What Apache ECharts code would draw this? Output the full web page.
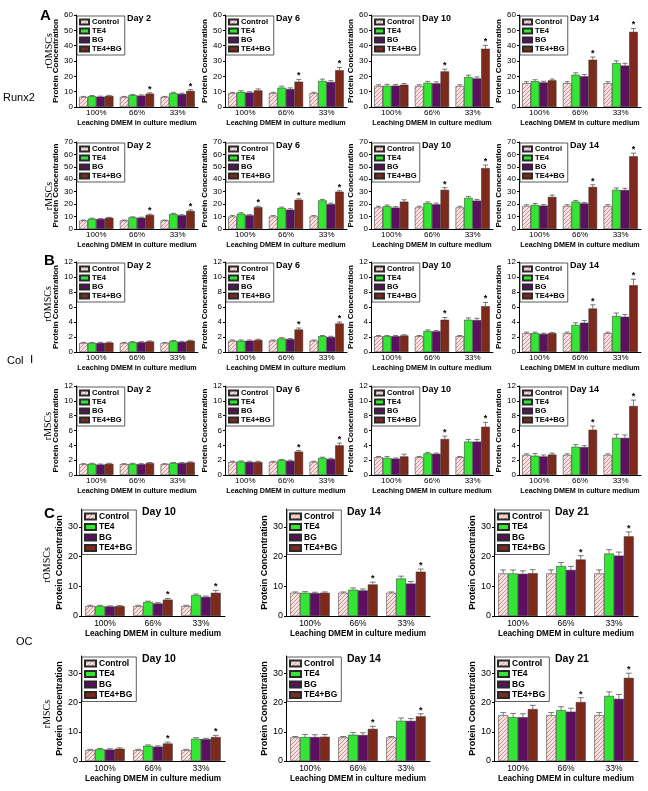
<!DOCTYPE html>
<html><head><meta charset="utf-8">
<script src="https://cdn.jsdelivr.net/npm/echarts@6/dist/echarts.min.js"></script>
<style>html,body{margin:0;padding:0;background:#fff}#c{width:648px;height:791px}</style>
</head><body><div id="c"></div>
<script>
// ---------- DATA ----------
const categories = ['100%', '66%', '33%'];
const seriesNames = ['Control', 'TE4', 'BG', 'TE4+BG'];
// values: [Control, TE4, BG, TE4+BG], each by category; err same layout; sig = star on TE4+BG per category
// Runx2 – rOMSCs
const runx2_rOMSCs_d2  = [[6.5,6.5,6.5],[7.0,7.7,9.0],[6.7,7.4,8.5],[7.2,8.7,10.5]];
const runx2_rOMSCs_d2_err = [[0.4,0.4,0.4],[0.5,0.5,0.6],[0.4,0.5,0.5],[0.4,0.6,0.8]];
const runx2_rOMSCs_d2_sig = [0,1,1];
const runx2_rOMSCs_d6  = [[9,9,9],[9.8,12.6,17],[9.4,11.7,16.3],[10.8,16.5,24]];
const runx2_rOMSCs_d6_err = [[0.6,0.6,0.6],[0.8,1,1.2],[0.6,0.8,0.9],[1,1.5,1.8]];
const runx2_rOMSCs_d6_sig = [0,1,1];
const runx2_rOMSCs_d10 = [[13.7,13.7,13.7],[13.8,15.7,19.5],[13.9,15.4,18.6],[14.5,23.2,38]];
const runx2_rOMSCs_d10_err = [[0.8,0.8,0.8],[1,1,1.2],[0.8,1,1],[0.8,1.5,2.2]];
const runx2_rOMSCs_d10_sig = [0,1,1];
const runx2_rOMSCs_d14 = [[15.5,15.5,15.5],[16.8,21,28.6],[16,20,27],[17.4,30.8,49]];
const runx2_rOMSCs_d14_err = [[1,1,1],[1,1.3,1.5],[0.8,1.2,1.5],[0.8,1.8,2.2]];
const runx2_rOMSCs_d14_sig = [0,1,1];
// Runx2 – rMSCs
const runx2_rMSCs_d2  = [[6.8,6.8,6.8],[8.2,9.3,12],[8,9,11],[9,11.3,14.5]];
const runx2_rMSCs_d2_err = [[0.4,0.4,0.4],[0.5,0.5,0.6],[0.4,0.5,0.5],[0.4,0.6,0.8]];
const runx2_rMSCs_d2_sig = [0,1,1];
const runx2_rMSCs_d6  = [[10,10,10],[12.3,16.8,23],[11,15.5,20],[17.5,23.5,30]];
const runx2_rMSCs_d6_err = [[0.8,0.8,0.8],[0.8,0.8,0.8],[0.6,0.8,0.8],[0.8,0.8,0.8]];
const runx2_rMSCs_d6_sig = [1,1,1];
const runx2_rMSCs_d10 = [[17.3,17.3,17.3],[18.3,20.8,25],[17.2,19.8,22.8],[22,31.5,49]];
const runx2_rMSCs_d10_err = [[1,1,1],[1,1,1.2],[0.8,1,1],[1.5,1.8,2.5]];
const runx2_rMSCs_d10_sig = [0,1,1];
const runx2_rMSCs_d14 = [[18.5,18.5,18.5],[19.3,22,31.5],[18.8,20.6,31.3],[25.8,33.8,58.5]];
const runx2_rMSCs_d14_err = [[1,1,1],[1.2,1,1.5],[0.8,0.8,1.5],[1.5,1.8,2.5]];
const runx2_rMSCs_d14_sig = [0,1,1];
// Col I – rOMSCs
const col1_rOMSCs_d2  = [[1.2,1.2,1.2],[1.2,1.3,1.45],[1.2,1.3,1.35],[1.25,1.4,1.5]];
const col1_rOMSCs_d2_err = [[0.08,0.08,0.08],[0.08,0.08,0.08],[0.08,0.08,0.08],[0.08,0.08,0.08]];
const col1_rOMSCs_d2_sig = [0,0,0];
const col1_rOMSCs_d6  = [[1.5,1.5,1.5],[1.5,1.8,2.1],[1.5,1.7,2.0],[1.6,3.0,3.8]];
const col1_rOMSCs_d6_err = [[0.1,0.1,0.1],[0.1,0.1,0.1],[0.1,0.1,0.1],[0.1,0.2,0.2]];
const col1_rOMSCs_d6_sig = [0,1,1];
const col1_rOMSCs_d10 = [[2.1,2.1,2.1],[2.1,2.8,4.3],[2.1,2.75,4.25],[2.2,4.3,6.1]];
const col1_rOMSCs_d10_err = [[0.1,0.1,0.1],[0.1,0.15,0.25],[0.1,0.1,0.25],[0.1,0.3,0.5]];
const col1_rOMSCs_d10_sig = [0,1,1];
const col1_rOMSCs_d14 = [[2.5,2.5,2.5],[2.5,3.6,4.8],[2.4,3.9,4.7],[2.5,5.8,8.9]];
const col1_rOMSCs_d14_err = [[0.15,0.15,0.15],[0.15,0.3,0.4],[0.1,0.3,0.3],[0.1,0.5,0.8]];
const col1_rOMSCs_d14_sig = [0,1,1];
// Col I – rMSCs
const col1_rMSCs_d2  = [[1.45,1.45,1.45],[1.5,1.5,1.6],[1.4,1.45,1.6],[1.5,1.6,1.7]];
const col1_rMSCs_d2_err = [[0.08,0.08,0.08],[0.08,0.08,0.08],[0.08,0.08,0.08],[0.08,0.08,0.08]];
const col1_rMSCs_d2_sig = [0,0,0];
const col1_rMSCs_d6  = [[1.75,1.75,1.75],[1.8,2.0,2.3],[1.75,1.9,2.15],[1.75,3.15,4.0]];
const col1_rMSCs_d6_err = [[0.1,0.1,0.1],[0.1,0.1,0.1],[0.1,0.1,0.1],[0.1,0.15,0.3]];
const col1_rMSCs_d6_sig = [0,1,1];
const col1_rMSCs_d10 = [[2.4,2.4,2.4],[2.3,2.9,4.5],[2.2,2.85,4.5],[2.5,4.85,6.5]];
const col1_rMSCs_d10_err = [[0.1,0.1,0.1],[0.2,0.15,0.3],[0.1,0.1,0.3],[0.3,0.4,0.6]];
const col1_rMSCs_d10_sig = [0,1,1];
const col1_rMSCs_d14 = [[2.7,2.7,2.7],[2.6,3.8,5.0],[2.5,3.75,5.0],[2.75,6.1,9.3]];
const col1_rMSCs_d14_err = [[0.15,0.15,0.15],[0.3,0.3,0.5],[0.2,0.2,0.4],[0.2,0.5,0.8]];
const col1_rMSCs_d14_sig = [0,1,1];
// OC – rOMSCs
const oc_rOMSCs_d10 = [[3.3,3.3,3.3],[3.3,4.7,7.0],[3.2,4.2,6.4],[3.3,5.5,7.8]];
const oc_rOMSCs_d10_err = [[0.3,0.3,0.3],[0.3,0.3,0.4],[0.2,0.3,0.3],[0.2,0.4,0.8]];
const oc_rOMSCs_d10_sig = [0,1,1];
const oc_rOMSCs_d14 = [[7.8,7.8,7.8],[7.8,8.85,12.6],[7.7,8.6,10.9],[7.8,10.6,14.9]];
const oc_rOMSCs_d14_err = [[0.3,0.3,0.3],[0.4,0.6,0.8],[0.3,0.5,0.7],[0.3,0.8,0.9]];
const oc_rOMSCs_d14_sig = [0,1,1];
const oc_rOMSCs_d21 = [[14.3,14.3,14.3],[14.3,16.8,21],[14.2,15.5,20.3],[14.4,19,26.8]];
const oc_rOMSCs_d21_err = [[1.2,1.2,1.2],[1.2,1.2,1.3],[1.0,1.2,1.2],[1.2,1.3,1.5]];
const oc_rOMSCs_d21_sig = [0,1,1];
// OC – rMSCs
const oc_rMSCs_d10 = [[3.7,3.7,3.7],[4.0,5.2,7.6],[3.9,4.9,7.5],[4.2,6.0,8.2]];
const oc_rMSCs_d10_err = [[0.3,0.3,0.3],[0.3,0.3,0.4],[0.3,0.3,0.3],[0.3,0.5,0.6]];
const oc_rMSCs_d10_sig = [0,1,1];
const oc_rMSCs_d14 = [[8.1,8.1,8.1],[8.2,9.0,13.75],[8.2,8.9,13.75],[8.3,11.0,15.3]];
const oc_rMSCs_d14_err = [[0.3,0.3,0.3],[0.9,0.8,1],[0.8,0.8,0.8],[0.8,0.9,0.9]];
const oc_rMSCs_d14_sig = [0,1,1];
const oc_rMSCs_d21 = [[15.7,15.7,15.7],[15,17.4,22.3],[15,16.9,21.3],[17.8,20.2,28.5]];
const oc_rMSCs_d21_err = [[0.9,0.9,0.9],[1.3,1.2,1.4],[1.2,1.2,1.5],[1.3,1.5,1.6]];
const oc_rMSCs_d21_sig = [0,1,1];

const yTicksC = [0, 10, 20, 30];

// ---------- STYLE / LAYOUT ----------
const SANS = 'Liberation Sans, Arial, sans-serif';
const SERIF = 'Liberation Serif, Times New Roman, serif';
function hatch() {
  const c = document.createElement('canvas'); c.width = 4; c.height = 4;
  const g = c.getContext('2d');
  g.fillStyle = '#f7e3e3'; g.fillRect(0, 0, 4, 4);
  g.strokeStyle = '#cf8f8f'; g.lineWidth = 1;
  g.beginPath();
  g.moveTo(0, 4); g.lineTo(4, 0);
  g.moveTo(-1, 1); g.lineTo(1, -1);
  g.moveTo(3, 5); g.lineTo(5, 3);
  g.stroke();
  return c;
}
const colors = [{ image: hatch(), repeat: 'repeat' }, '#33e633', '#5c1060', '#7d2a1d'];

const xAB = [76, 225, 371, 519], wAB = 122;
const xC = [81, 286, 494], wC = 144;
const panels = [];
function addAB(top, h, max, iv, list) {
  list.forEach((it, i) => panels.push({ v: it[0], e: it[1], s: it[2], day: it[3], left: xAB[i], top, w: wAB, h, max, iv, big: false }));
}
function addC(top, h, list) {
  list.forEach((it, i) => panels.push({ v: it[0], e: it[1], s: it[2], day: it[3], left: xC[i], top, w: wC, h, max: 36, iv: 10, big: true }));
}
addAB(15, 92, 60, 10, [
  [runx2_rOMSCs_d2, runx2_rOMSCs_d2_err, runx2_rOMSCs_d2_sig, 'Day 2'],
  [runx2_rOMSCs_d6, runx2_rOMSCs_d6_err, runx2_rOMSCs_d6_sig, 'Day 6'],
  [runx2_rOMSCs_d10, runx2_rOMSCs_d10_err, runx2_rOMSCs_d10_sig, 'Day 10'],
  [runx2_rOMSCs_d14, runx2_rOMSCs_d14_err, runx2_rOMSCs_d14_sig, 'Day 14']]);
addAB(142, 87, 70, 10, [
  [runx2_rMSCs_d2, runx2_rMSCs_d2_err, runx2_rMSCs_d2_sig, 'Day 2'],
  [runx2_rMSCs_d6, runx2_rMSCs_d6_err, runx2_rMSCs_d6_sig, 'Day 6'],
  [runx2_rMSCs_d10, runx2_rMSCs_d10_err, runx2_rMSCs_d10_sig, 'Day 10'],
  [runx2_rMSCs_d14, runx2_rMSCs_d14_err, runx2_rMSCs_d14_sig, 'Day 14']]);
addAB(262, 90, 12, 2, [
  [col1_rOMSCs_d2, col1_rOMSCs_d2_err, col1_rOMSCs_d2_sig, 'Day 2'],
  [col1_rOMSCs_d6, col1_rOMSCs_d6_err, col1_rOMSCs_d6_sig, 'Day 6'],
  [col1_rOMSCs_d10, col1_rOMSCs_d10_err, col1_rOMSCs_d10_sig, 'Day 10'],
  [col1_rOMSCs_d14, col1_rOMSCs_d14_err, col1_rOMSCs_d14_sig, 'Day 14']]);
addAB(386, 89, 12, 2, [
  [col1_rMSCs_d2, col1_rMSCs_d2_err, col1_rMSCs_d2_sig, 'Day 2'],
  [col1_rMSCs_d6, col1_rMSCs_d6_err, col1_rMSCs_d6_sig, 'Day 6'],
  [col1_rMSCs_d10, col1_rMSCs_d10_err, col1_rMSCs_d10_sig, 'Day 10'],
  [col1_rMSCs_d14, col1_rMSCs_d14_err, col1_rMSCs_d14_sig, 'Day 14']]);
addC(509, 107, [
  [oc_rOMSCs_d10, oc_rOMSCs_d10_err, oc_rOMSCs_d10_sig, 'Day 10'],
  [oc_rOMSCs_d14, oc_rOMSCs_d14_err, oc_rOMSCs_d14_sig, 'Day 14'],
  [oc_rOMSCs_d21, oc_rOMSCs_d21_err, oc_rOMSCs_d21_sig, 'Day 21']]);
addC(656, 105, [
  [oc_rMSCs_d10, oc_rMSCs_d10_err, oc_rMSCs_d10_sig, 'Day 10'],
  [oc_rMSCs_d14, oc_rMSCs_d14_err, oc_rMSCs_d14_sig, 'Day 14'],
  [oc_rMSCs_d21, oc_rMSCs_d21_err, oc_rMSCs_d21_sig, 'Day 21']]);

function errRender(gap) {
  return function (params, api) {
    const cat = api.value(0), k = api.value(1), v = api.value(2), e = api.value(3), s = api.value(4);
    const band = api.size([1, 0])[0];
    const bw = band * (1 - gap) / 4;
    const p0 = api.coord([cat, v]);
    const p1 = api.coord([cat, v + e]);
    const x = p0[0] + (k - 1.5) * bw;
    const cw = bw * 0.3;
    const ch = [
      { type: 'line', shape: { x1: x, y1: p0[1], x2: x, y2: p1[1] }, style: { stroke: '#444', lineWidth: 0.7 } },
      { type: 'line', shape: { x1: x - cw, y1: p1[1], x2: x + cw, y2: p1[1] }, style: { stroke: '#444', lineWidth: 0.7 } }
    ];
    if (s) ch.push({ type: 'text', style: { text: '*', x: x, y: p1[1] + 1, align: 'center', verticalAlign: 'bottom', font: 'bold 9px ' + SANS, fill: '#000' } });
    return { type: 'group', children: ch };
  };
}

const grid = [], xAxis = [], yAxis = [], series = [], legend = [], title = [];
panels.forEach((p, i) => {
  const big = p.big;
  const gap = big ? 0.18 : 0.16;
  grid.push({ left: p.left, top: p.top, width: p.w, height: p.h });
  xAxis.push({
    type: 'category', gridIndex: i, data: categories,
    axisLine: { lineStyle: { color: '#000', width: 1 } },
    axisTick: { show: false },
    axisLabel: { color: '#000', fontSize: big ? 8.5 : 8, fontFamily: SANS, margin: big ? 3 : 2 },
    name: 'Leaching DMEM in culture medium', nameLocation: 'middle', nameGap: big ? 14 : 12.5,
    nameTextStyle: { color: '#000', fontSize: big ? 8.2 : 7.2, fontWeight: 'bold', fontFamily: SANS }
  });
  const ya = {
    type: 'value', gridIndex: i, min: 0, max: p.max, interval: p.iv,
    axisLine: { show: true, lineStyle: { color: '#000', width: 1 } },
    axisTick: { show: true, length: 2, lineStyle: { color: '#000' } },
    splitLine: { show: false },
    axisLabel: { color: '#000', fontSize: big ? 9 : 8, fontFamily: SANS, margin: 3 },
    name: 'Protein Concentration', nameLocation: 'middle', nameGap: big ? 13.5 : 12,
    nameTextStyle: { color: '#000', fontSize: big ? 9 : 8, fontWeight: 'bold', fontFamily: SANS }
  };
  if (big) {
    ya.axisLabel.customValues = yTicksC;
    ya.axisTick.customValues = yTicksC;
  }
  yAxis.push(ya);
  p.v.forEach((vals, k) => {
    series.push({
      type: 'bar', name: seriesNames[k], xAxisIndex: i, yAxisIndex: i, data: vals,
      barGap: '0%', barCategoryGap: (gap * 100) + '%',
      itemStyle: { color: colors[k], borderColor: '#2a2a2a', borderWidth: 0.5 },
      silent: true
    });
  });
  const ed = [];
  for (let k = 0; k < 4; k++) for (let c = 0; c < 3; c++) {
    ed.push([c, k, p.v[k][c], p.e[k][c], k === 3 ? p.s[c] : 0]);
  }
  series.push({ type: 'custom', xAxisIndex: i, yAxisIndex: i, z: 5, silent: true, data: ed, encode: { x: 0, y: 2 }, renderItem: errRender(gap) });
  legend.push({
    data: seriesNames, orient: 'vertical', left: p.left + 1, top: p.top + 1,
    icon: 'rect', itemWidth: big ? 11 : 9, itemHeight: big ? 6 : 5, itemGap: big ? 1.5 : 1,
    padding: big ? [2, 4, 2, 2] : [2, 3, 2, 2],
    borderColor: '#333', borderWidth: 0.8, selectedMode: false,
    textStyle: { color: '#000', fontSize: big ? 8.5 : 7.6, fontWeight: 'bold', fontFamily: SANS, padding: [0, 0, 0, -2], lineHeight: big ? 9 : 8 }
  });
  title.push({
    text: p.day, left: p.left + (big ? 61 : 51), top: p.top + (big ? -2 : -1), padding: 0,
    textStyle: { color: '#000', fontSize: big ? 10.5 : 9, fontWeight: 'bold', fontFamily: SANS }
  });
});

function rotText(t, x, y) {
  return { type: 'text', x: x, y: y, rotation: Math.PI / 2, style: { text: t, font: '10px ' + SERIF, fill: '#000', align: 'center', verticalAlign: 'middle' } };
}
const graphic = [
  { type: 'text', left: 40, top: 8, style: { text: 'A', font: 'bold 15px ' + SANS, fill: '#000' } },
  { type: 'text', left: 44, top: 253, style: { text: 'B', font: 'bold 15px ' + SANS, fill: '#000' } },
  { type: 'text', left: 44, top: 506, style: { text: 'C', font: 'bold 15px ' + SANS, fill: '#000' } },
  { type: 'text', left: 3, top: 92, style: { text: 'Runx2', font: '11px ' + SANS, fill: '#000' } },
  { type: 'text', left: 7, top: 355, style: { text: 'Col', font: '11px ' + SANS, fill: '#000' } },
  { type: 'text', left: 30, top: 355, style: { text: 'Ⅰ', font: '11px ' + SERIF, fill: '#000' } },
  { type: 'text', left: 16, top: 636, style: { text: 'OC', font: '11px ' + SANS, fill: '#000' } },
  rotText('rOMSCs', 49, 51),
  rotText('rMSCs', 49, 196),
  rotText('rOMSCs', 48, 304),
  rotText('rMSCs', 48, 426),
  rotText('rOMSCs', 47, 565),
  rotText('rMSCs', 47, 714)
];

const chart = echarts.init(document.getElementById('c'), null, { renderer: 'canvas' });
chart.setOption({ animation: false, backgroundColor: '#fff', grid, xAxis, yAxis, series, legend, title, graphic });
</script></body></html>
